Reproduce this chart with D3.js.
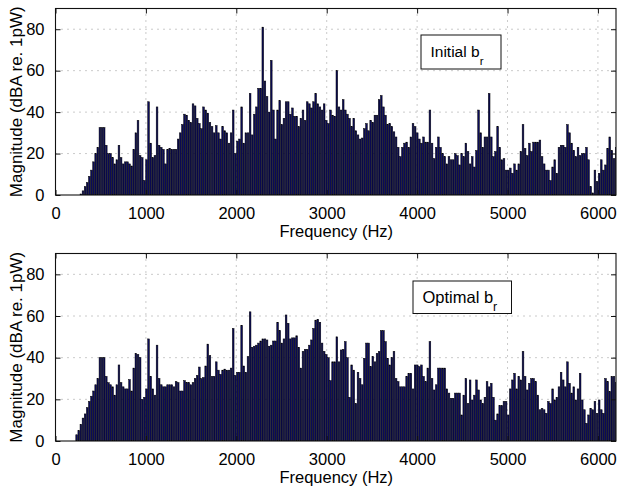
<!DOCTYPE html>
<html>
<head>
<meta charset="utf-8">
<script src="https://cdn.jsdelivr.net/npm/d3@7/dist/d3.min.js"></script>
<style>
  html, body { margin: 0; padding: 0; background: #fff; }
  text { font-family: "Liberation Sans", Arial, Helvetica, sans-serif; fill: #000; }
</style>
</head>
<body>
<svg id="chart" width="618" height="492"></svg>
<script>
// ---- data ----
const binHz = 23.4;                 // frequency spacing of the spectrum bins
const xTicks = [0, 1000, 2000, 3000, 4000, 5000, 6000];
const yTicks = [0, 20, 40, 60, 80];
const xLabel = "Frequency (Hz)";
const yLabel = "Magnitude (dBA re. 1pW)";

// Initial b_r spectrum, first bin index 12
const initialStartBin = 12;
const initialValues = [
  0.5, 2, 4, 6, 9, 12, 16, 20, 23, 32.5, 32.5, 32.5,
  24, 20, 20, 18, 15, 17, 24, 18, 15, 16, 16, 15, 14, 22, 30, 36, 19, 18, 7, 17,
  45, 25, 18, 19, 42.5, 24, 23, 22, 15, 22, 22.5, 22, 22, 22, 27, 30, 34, 39, 38.5, 36,
  35, 44, 43, 37, 34.5, 32, 42.5, 41, 39.5, 35, 33, 30, 33.5, 30, 27, 33, 31, 30, 25, 30,
  41, 20, 26, 27, 42.5, 25, 30, 30, 49, 29, 39, 42.5, 51.5, 51.5, 81, 55, 47.5, 40, 65, 41,
  27, 41, 45.5, 34, 37, 45, 45, 39, 42, 38, 38, 33, 37, 41, 36, 45, 44, 42, 45, 49, 44,
  42.5, 41, 44, 36, 34.5, 41, 38.5, 38, 60, 42.5, 41, 46, 41, 39, 37, 33, 37, 31, 29, 27,
  27.5, 32, 34.5, 31, 36, 35, 38.5, 38.5, 46, 48, 42.5, 38.5, 34, 34.5, 33, 30.5, 28, 23,
  18.5, 23, 25, 25.5, 23, 28, 34.5, 33, 30, 27, 25, 28, 25.5, 25.5,
  41, 25, 17.5, 23, 28, 23, 20, 18.5, 15, 18.5, 17, 17, 20, 19, 14.5, 20, 18.5, 25, 21, 15,
  18.5, 13.5, 21.5, 41,
  30, 23, 28, 28, 49,
  28, 18.5, 21, 33, 23, 17, 17.5, 12, 12, 13, 10.5, 15, 12, 15, 21, 34,
  22.5, 19, 25, 21, 25.5, 25.5, 25.5, 26.5, 18.5, 15, 12, 12, 7, 13.5, 17, 10.5, 23, 24, 24, 23, 34,
  30, 25, 21.5, 18.5, 23, 19, 20, 20, 23, 17, 4, 1, 12, 6.5, 10.5, 17, 12, 14.5, 22.5, 28, 21.5, 17.5, 23
];

// Optimal b_r spectrum, first bin index 10
const optimalStartBin = 10;
const optimalValues = [
  3, 5, 8, 11, 13, 16, 19, 21.5, 24, 27, 30, 40, 40, 40,
  31, 28, 27, 26, 22, 27, 36.5, 28, 26, 25, 25, 29.5, 24, 35, 42, 41.5, 40, 20, 21, 25,
  49, 31, 25, 22, 46, 30, 27, 26, 26, 27, 27, 27, 26, 28.5, 28, 24, 24, 29, 28, 28,
  27, 28, 30, 31.5, 35.5, 30, 30.5, 36, 46.5, 41, 31, 31, 38, 34, 32, 34, 34.5, 34, 34, 35,
  54, 31.5, 33, 33, 55.5, 36, 33, 40.5, 62, 45, 45.5, 46, 47, 48, 49, 49, 48.5, 45.5, 46, 48,
  48, 57, 53, 47, 49, 60.5, 56.5, 49, 49.5, 49.5, 50.5, 45, 35, 43, 44, 44, 46, 48.5, 54, 58, 58.4, 57,
  47, 43, 41.5, 40, 29, 38, 38, 50, 38, 43.7, 44, 47.7, 40, 21, 36.5, 34, 18, 33, 30, 27,
  39.7, 47, 47, 35.7, 40.5, 38, 42, 43, 53, 53, 47.7, 39.7, 36.5, 40, 43, 30, 28.5, 26, 26, 26,
  31, 32.5, 32.5, 25, 36.5, 36.5, 35.7, 36.5, 31, 28.5, 35, 47.7, 30, 24.5, 27, 35, 35, 35, 35, 25,
  23, 20.5, 20.5, 23, 23, 23, 12.5, 22,
  30, 18, 29.3, 19.7, 22, 29.3, 24.5, 19.7, 18, 21, 28.5, 26, 27.7, 21, 10, 13, 17, 17, 19, 19,
  12.5, 25, 29.3, 32.5, 25, 31, 29.3, 43, 31, 24.5, 27.7, 30, 30, 28.5, 22, 15, 15.7, 15, 13.3, 19,
  18, 25, 19.7, 21, 26, 33, 29.3, 26, 38, 27.7, 23, 26, 19.7, 25, 32.5, 19.7, 15, 8.5, 12.5, 15.7,
  15, 19, 13.3, 19.7, 15, 13.3, 30, 28.5, 23.7, 31, 31, 28
];

const panels = [
  { name: "Initial", sub: "r", startBin: initialStartBin, values: initialValues,
    top: 8.5, bottom: 195, legend: { x: 421, y: 35, w: 80, h: 34, size: 15.5, pad: 9.5 } },
  { name: "Optimal", sub: "r", startBin: optimalStartBin, values: optimalValues,
    top: 253.5, bottom: 441, legend: { x: 413, y: 281, w: 98.5, h: 32.5, size: 16.5, pad: 9.5 } }
];

// ---- drawing ----
const svg = d3.select("#chart");
const left = 55.5, right = 616;
const x = d3.scaleLinear().domain([0, 6200]).range([left, right]);
const barW = (x(binHz) - x(0)) * 0.8;

panels.forEach((p, pi) => {
  const y = d3.scaleLinear().domain([0, 90]).range([p.bottom, p.top]);
  const g = svg.append("g");
  const clipId = "clip" + pi;
  svg.append("clipPath").attr("id", clipId)
    .append("rect").attr("x", left).attr("y", p.top).attr("width", right - left).attr("height", p.bottom - p.top);

  // grid
  const grid = g.append("g").attr("stroke", "#8a8a8a").attr("stroke-width", 0.9).attr("stroke-dasharray", "1,5");
  xTicks.filter(t => t > 0).forEach(t => {
    grid.append("line").attr("x1", x(t)).attr("x2", x(t)).attr("y1", p.top).attr("y2", p.bottom);
  });
  yTicks.filter(t => t > 0).forEach(t => {
    grid.append("line").attr("x1", left).attr("x2", right).attr("y1", y(t)).attr("y2", y(t));
  });

  // bars
  const data = p.values.map((v, i) => ({ f: (p.startBin + i) * binHz, v }));
  g.append("g").attr("clip-path", `url(#${clipId})`)
    .selectAll("rect").data(data).join("rect")
    .attr("x", d => x(d.f) - barW / 2)
    .attr("width", barW)
    .attr("y", d => y(d.v))
    .attr("height", d => y(0) - y(d.v))
    .attr("fill", "#0b0b58")
    .attr("stroke", "#000")
    .attr("stroke-width", 0.5);

  // frame
  g.append("rect").attr("x", left).attr("y", p.top).attr("width", right - left).attr("height", p.bottom - p.top)
    .attr("fill", "none").attr("stroke", "#111").attr("stroke-width", 1.1);

  // axes with inward ticks (MATLAB style)
  const tl = 5;
  const axB = d3.axisBottom(x).tickValues(xTicks).tickSize(-tl).tickPadding(12).tickFormat(d3.format("d"));
  const axT = d3.axisTop(x).tickValues(xTicks).tickSize(-tl).tickFormat("");
  const axL = d3.axisLeft(y).tickValues(yTicks).tickSize(-tl).tickPadding(11).tickFormat(d3.format("d"));
  const axR = d3.axisRight(y).tickValues(yTicks).tickSize(-tl).tickFormat("");
  [[axB, `translate(0,${p.bottom})`], [axT, `translate(0,${p.top})`],
   [axL, `translate(${left},0)`], [axR, `translate(${right},0)`]].forEach(([ax, tr]) => {
    const a = g.append("g").attr("transform", tr).call(ax);
    a.select(".domain").remove();
    a.selectAll(".tick line").attr("stroke", "#111").attr("stroke-width", 1);
    a.selectAll("text").attr("font-size", 16.5).attr("font-family", "Liberation Sans, Arial, sans-serif").attr("fill", "#000");
  });

  // axis labels
  g.append("text").attr("x", (left + right) / 2 + 0.5).attr("y", p.bottom + 42)
    .attr("text-anchor", "middle").attr("font-size", 16.5).text(xLabel);
  g.append("text")
    .attr("transform", `translate(21.5,${(p.top + p.bottom) / 2}) rotate(-90)`)
    .attr("text-anchor", "middle").attr("font-size", 17).text(yLabel);

  // legend box
  const L = p.legend;
  g.append("rect").attr("x", L.x).attr("y", L.y).attr("width", L.w).attr("height", L.h)
    .attr("fill", "#fff").attr("stroke", "#111").attr("stroke-width", 1);
  const t = g.append("text").attr("x", L.x + L.pad).attr("y", L.y + 22.3)
    .attr("text-anchor", "start").attr("font-size", L.size);
  t.append("tspan").text(p.name + " b");
  t.append("tspan").attr("font-size", L.size * 0.75).attr("dy", 7.5).text(p.sub);
});
</script>
</body>
</html>
